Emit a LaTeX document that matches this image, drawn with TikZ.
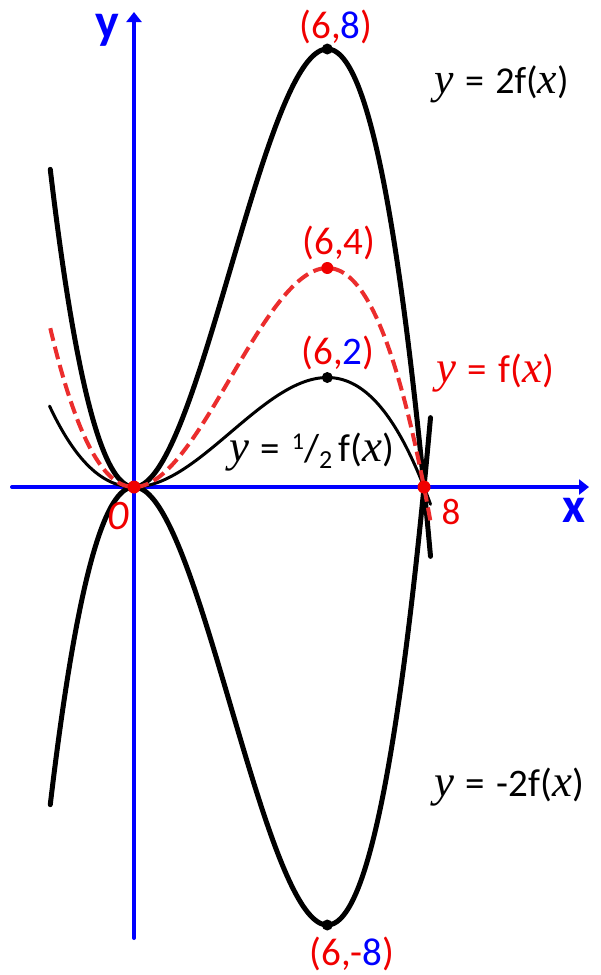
\documentclass[tikz,border=0pt]{standalone}
\usepackage{fontspec}
\setmainfont{Carlito}
\newfontfamily\eqitfont{Liberation Serif}[Scale=1.15]
\usetikzlibrary{arrows.meta}
\definecolor{myblue}{RGB}{0,0,255}
\definecolor{myred}{RGB}{240,0,0}
\definecolor{dashred}{RGB}{235,45,45}
\newcommand\vy{{\eqitfont\itshape y}}
\newcommand\vx{{\eqitfont\itshape x}}
\newcommand\eqsp{\hspace{0.3em}}
\begin{document}
\begin{tikzpicture}[x=1pt,y=-1pt,
  axis/.style={myblue,line width=4pt,line cap=round,-{Triangle[length=10pt,width=15pt]}},
  curvethick/.style={black,line width=5pt,line join=round,line cap=round},
  curvethin/.style={black,line width=3pt,line join=round,line cap=round},
  curvedash/.style={dashred,line width=4pt,dash pattern=on 13pt off 6pt},
  dotb/.style={circle,fill=black,inner sep=0pt,minimum size=11pt},
  dotr/.style={circle,fill=myred,inner sep=0pt,minimum size=13pt},
  ptlabel/.style={font=\fontsize{39pt}{39pt}\selectfont, text=myred, inner sep=0pt, anchor=base},
  eqlabel/.style={inner sep=0pt, anchor=base west},
  axlabel/.style={text=myblue, inner sep=0pt, font=\fontsize{50pt}{50pt}\selectfont\bfseries},
  numlabel/.style={text=myred, inner sep=0pt}
]
\useasboundingbox (0,0) rectangle (601,975);
% axes
\coordinate (xs) at (12,487);
\coordinate (xe) at (589,487);
\coordinate (ys) at (134,938);
\coordinate (ye) at (134,12);
\draw[axis] (xs) -- (xe);
\draw[axis] (ys) -- (ye);
% curves  f(u) = k u^2 (8-u), max 219px at u=16/3
\draw[curvethick] plot[domain=-2.31:8.18,samples=220,smooth] ({134+36.25*\x},{487-5.774*\x*\x*(8-\x)});
\draw[curvethick] plot[domain=-2.31:8.18,samples=220,smooth] ({134+36.25*\x},{487+5.774*\x*\x*(8-\x)});
\draw[curvethin] plot[domain=-2.33:8.18,samples=220,smooth] ({134+36.25*\x},{487-1.4435*\x*\x*(8-\x)});
\draw[curvedash] plot[domain=-2.31:8.18,samples=220,smooth] ({134+36.25*\x},{487-2.887*\x*\x*(8-\x)});
% dots
\node[dotb] (p68) at (327.3,49) {};
\node[dotr,minimum size=12pt] (p64) at (327.3,268) {};
\node[dotb] (p62) at (327.3,377.5) {};
\node[dotb] (p6m8) at (327.3,925) {};
\node[dotr] (o) at (134,487) {};
\node[dotr] (e) at (424,487) {};
% point labels
\node[ptlabel] (l68) at (336,38) {(6,\textcolor{myblue}{8})};
\node[ptlabel] (l64) at (339,254) {(6,4)};
\node[ptlabel] (l62) at (338,364) {(6,\textcolor{myblue}{2})};
\node[ptlabel] (l6m8) at (352,965) {(6,-\textcolor{myblue}{8})};
% axis labels
\node[axlabel] (ylab) at (107,30) {y};
\node[axlabel] (xlab) at (574,510) {x};
\node[numlabel,font=\fontsize{42pt}{42pt}\selectfont\itshape] (zero) at (118,516) {0};
\node[numlabel,font=\fontsize{37pt}{37pt}\selectfont] (eight) at (451,512) {8};
% equation labels
\node[eqlabel,font=\fontsize{38pt}{38pt}\selectfont] (e2f) at (434,93) {\vy\eqsp=\eqsp2f(\vx)};
\node[eqlabel,text=myred,font=\fontsize{39pt}{39pt}\selectfont] (ef) at (436,382) {\vy\eqsp=\eqsp f(\vx)};
\node[eqlabel,font=\fontsize{39pt}{39pt}\selectfont] (ehalf) at (229,461) {\vy\eqsp=\eqsp\raisebox{0.3em}{\fontsize{24pt}{24pt}\selectfont 1}/\raisebox{-0.18em}{\fontsize{26pt}{26pt}\selectfont 2}\,f(\vx)};
\node[eqlabel,font=\fontsize{39pt}{39pt}\selectfont] (em2f) at (434,796) {\vy\eqsp=\eqsp-2f(\vx)};
\end{tikzpicture}
\end{document}
